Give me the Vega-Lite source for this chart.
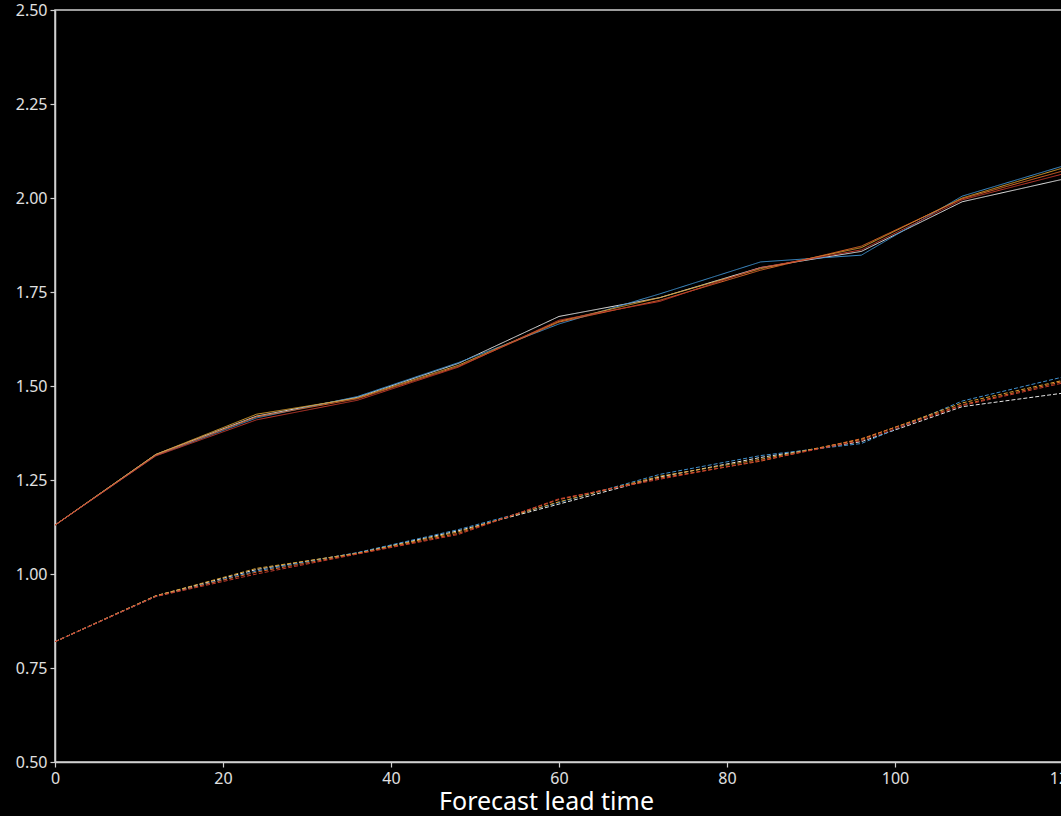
{
  "$schema": "https://vega.github.io/schema/vega-lite/v6.json",
  "width": 1008,
  "height": 752,
  "autosize": {"type": "none"},
  "padding": {"left": 55, "top": 10, "right": 0, "bottom": 54},
  "background": "#000000",
  "config": {
    "view": {"stroke": "#d0d0d0", "strokeWidth": 1.5},
    "font": "Noto Sans",
    "axis": {
      "domainColor": "#d0d0d0",
      "domainWidth": 1.5,
      "tickColor": "#d0d0d0",
      "tickWidth": 1.2,
      "tickSize": 5,
      "labelColor": "#e0e0e0",
      "labelFont": "Noto Sans",
      "labelFlush": false,
      "labelPadding": 3,
      "grid": false,
      "titleColor": "#ffffff",
      "titleFont": "Noto Sans",
      "titleFontWeight": "normal"
    }
  },
  "data": {
    "values": [
      {"series": "white", "kind": "solid", "lead": 0, "v": 1.13},
      {"series": "white", "kind": "solid", "lead": 12, "v": 1.318},
      {"series": "white", "kind": "solid", "lead": 24, "v": 1.420},
      {"series": "white", "kind": "solid", "lead": 36, "v": 1.470},
      {"series": "white", "kind": "solid", "lead": 48, "v": 1.560},
      {"series": "white", "kind": "solid", "lead": 60, "v": 1.685},
      {"series": "white", "kind": "solid", "lead": 72, "v": 1.735},
      {"series": "white", "kind": "solid", "lead": 84, "v": 1.815},
      {"series": "white", "kind": "solid", "lead": 96, "v": 1.858},
      {"series": "white", "kind": "solid", "lead": 108, "v": 1.990},
      {"series": "white", "kind": "solid", "lead": 120, "v": 2.050},
      {"series": "blue", "kind": "solid", "lead": 0, "v": 1.13},
      {"series": "blue", "kind": "solid", "lead": 12, "v": 1.315},
      {"series": "blue", "kind": "solid", "lead": 24, "v": 1.415},
      {"series": "blue", "kind": "solid", "lead": 36, "v": 1.472},
      {"series": "blue", "kind": "solid", "lead": 48, "v": 1.562},
      {"series": "blue", "kind": "solid", "lead": 60, "v": 1.665},
      {"series": "blue", "kind": "solid", "lead": 72, "v": 1.745},
      {"series": "blue", "kind": "solid", "lead": 84, "v": 1.830},
      {"series": "blue", "kind": "solid", "lead": 96, "v": 1.848},
      {"series": "blue", "kind": "solid", "lead": 108, "v": 2.005},
      {"series": "blue", "kind": "solid", "lead": 120, "v": 2.085},
      {"series": "gold", "kind": "solid", "lead": 0, "v": 1.13},
      {"series": "gold", "kind": "solid", "lead": 12, "v": 1.318},
      {"series": "gold", "kind": "solid", "lead": 24, "v": 1.425},
      {"series": "gold", "kind": "solid", "lead": 36, "v": 1.468},
      {"series": "gold", "kind": "solid", "lead": 48, "v": 1.555},
      {"series": "gold", "kind": "solid", "lead": 60, "v": 1.672},
      {"series": "gold", "kind": "solid", "lead": 72, "v": 1.735},
      {"series": "gold", "kind": "solid", "lead": 84, "v": 1.812},
      {"series": "gold", "kind": "solid", "lead": 96, "v": 1.868},
      {"series": "gold", "kind": "solid", "lead": 108, "v": 2.000},
      {"series": "gold", "kind": "solid", "lead": 120, "v": 2.080},
      {"series": "orange", "kind": "solid", "lead": 0, "v": 1.13},
      {"series": "orange", "kind": "solid", "lead": 12, "v": 1.316},
      {"series": "orange", "kind": "solid", "lead": 24, "v": 1.418},
      {"series": "orange", "kind": "solid", "lead": 36, "v": 1.466},
      {"series": "orange", "kind": "solid", "lead": 48, "v": 1.552},
      {"series": "orange", "kind": "solid", "lead": 60, "v": 1.670},
      {"series": "orange", "kind": "solid", "lead": 72, "v": 1.728},
      {"series": "orange", "kind": "solid", "lead": 84, "v": 1.808},
      {"series": "orange", "kind": "solid", "lead": 96, "v": 1.872},
      {"series": "orange", "kind": "solid", "lead": 108, "v": 1.998},
      {"series": "orange", "kind": "solid", "lead": 120, "v": 2.072},
      {"series": "red", "kind": "solid", "lead": 0, "v": 1.13},
      {"series": "red", "kind": "solid", "lead": 12, "v": 1.314},
      {"series": "red", "kind": "solid", "lead": 24, "v": 1.410},
      {"series": "red", "kind": "solid", "lead": 36, "v": 1.462},
      {"series": "red", "kind": "solid", "lead": 48, "v": 1.550},
      {"series": "red", "kind": "solid", "lead": 60, "v": 1.675},
      {"series": "red", "kind": "solid", "lead": 72, "v": 1.725},
      {"series": "red", "kind": "solid", "lead": 84, "v": 1.815},
      {"series": "red", "kind": "solid", "lead": 96, "v": 1.862},
      {"series": "red", "kind": "solid", "lead": 108, "v": 1.995},
      {"series": "red", "kind": "solid", "lead": 120, "v": 2.064},
      {"series": "white", "kind": "dashed", "lead": 0, "v": 0.82},
      {"series": "white", "kind": "dashed", "lead": 12, "v": 0.942},
      {"series": "white", "kind": "dashed", "lead": 24, "v": 1.012},
      {"series": "white", "kind": "dashed", "lead": 36, "v": 1.056},
      {"series": "white", "kind": "dashed", "lead": 48, "v": 1.115},
      {"series": "white", "kind": "dashed", "lead": 60, "v": 1.186},
      {"series": "white", "kind": "dashed", "lead": 72, "v": 1.258},
      {"series": "white", "kind": "dashed", "lead": 84, "v": 1.310},
      {"series": "white", "kind": "dashed", "lead": 96, "v": 1.352},
      {"series": "white", "kind": "dashed", "lead": 108, "v": 1.445},
      {"series": "white", "kind": "dashed", "lead": 120, "v": 1.481},
      {"series": "blue", "kind": "dashed", "lead": 0, "v": 0.82},
      {"series": "blue", "kind": "dashed", "lead": 12, "v": 0.940},
      {"series": "blue", "kind": "dashed", "lead": 24, "v": 1.008},
      {"series": "blue", "kind": "dashed", "lead": 36, "v": 1.057},
      {"series": "blue", "kind": "dashed", "lead": 48, "v": 1.118},
      {"series": "blue", "kind": "dashed", "lead": 60, "v": 1.190},
      {"series": "blue", "kind": "dashed", "lead": 72, "v": 1.265},
      {"series": "blue", "kind": "dashed", "lead": 84, "v": 1.315},
      {"series": "blue", "kind": "dashed", "lead": 96, "v": 1.347},
      {"series": "blue", "kind": "dashed", "lead": 108, "v": 1.460},
      {"series": "blue", "kind": "dashed", "lead": 120, "v": 1.524},
      {"series": "gold", "kind": "dashed", "lead": 0, "v": 0.82},
      {"series": "gold", "kind": "dashed", "lead": 12, "v": 0.942},
      {"series": "gold", "kind": "dashed", "lead": 24, "v": 1.015},
      {"series": "gold", "kind": "dashed", "lead": 36, "v": 1.055},
      {"series": "gold", "kind": "dashed", "lead": 48, "v": 1.112},
      {"series": "gold", "kind": "dashed", "lead": 60, "v": 1.192},
      {"series": "gold", "kind": "dashed", "lead": 72, "v": 1.260},
      {"series": "gold", "kind": "dashed", "lead": 84, "v": 1.305},
      {"series": "gold", "kind": "dashed", "lead": 96, "v": 1.358},
      {"series": "gold", "kind": "dashed", "lead": 108, "v": 1.455},
      {"series": "gold", "kind": "dashed", "lead": 120, "v": 1.515},
      {"series": "orange", "kind": "dashed", "lead": 0, "v": 0.82},
      {"series": "orange", "kind": "dashed", "lead": 12, "v": 0.941},
      {"series": "orange", "kind": "dashed", "lead": 24, "v": 1.005},
      {"series": "orange", "kind": "dashed", "lead": 36, "v": 1.054},
      {"series": "orange", "kind": "dashed", "lead": 48, "v": 1.108},
      {"series": "orange", "kind": "dashed", "lead": 60, "v": 1.198},
      {"series": "orange", "kind": "dashed", "lead": 72, "v": 1.255},
      {"series": "orange", "kind": "dashed", "lead": 84, "v": 1.300},
      {"series": "orange", "kind": "dashed", "lead": 96, "v": 1.360},
      {"series": "orange", "kind": "dashed", "lead": 108, "v": 1.450},
      {"series": "orange", "kind": "dashed", "lead": 120, "v": 1.512},
      {"series": "red", "kind": "dashed", "lead": 0, "v": 0.82},
      {"series": "red", "kind": "dashed", "lead": 12, "v": 0.940},
      {"series": "red", "kind": "dashed", "lead": 24, "v": 1.000},
      {"series": "red", "kind": "dashed", "lead": 36, "v": 1.053},
      {"series": "red", "kind": "dashed", "lead": 48, "v": 1.105},
      {"series": "red", "kind": "dashed", "lead": 60, "v": 1.200},
      {"series": "red", "kind": "dashed", "lead": 72, "v": 1.252},
      {"series": "red", "kind": "dashed", "lead": 84, "v": 1.302},
      {"series": "red", "kind": "dashed", "lead": 96, "v": 1.355},
      {"series": "red", "kind": "dashed", "lead": 108, "v": 1.448},
      {"series": "red", "kind": "dashed", "lead": 120, "v": 1.508}
    ]
  },
  "mark": {"type": "line", "strokeWidth": 1, "clip": true},
  "encoding": {
    "x": {
      "field": "lead",
      "type": "quantitative",
      "scale": {"domain": [0, 120], "nice": false, "zero": false},
      "axis": {"values": [0, 20, 40, 60, 80, 100, 120], "labelFontSize": 16, "title": "Forecast lead time", "titleFontSize": 25, "titlePadding": 3, "titleX": 491}
    },
    "y": {
      "field": "v",
      "type": "quantitative",
      "scale": {"domain": [0.5, 2.5], "nice": false, "zero": false},
      "axis": {"values": [0.5, 0.75, 1.0, 1.25, 1.5, 1.75, 2.0, 2.25, 2.5], "labelFontSize": 16, "format": ".2f", "title": null}
    },
    "detail": {"field": "kind"},
    "color": {
      "field": "series",
      "type": "nominal",
      "scale": {
        "domain": ["white", "blue", "gold", "orange", "red"],
        "range": ["#e6e6e6", "#3f8fcc", "#d9a030", "#e0682a", "#c23a2e"]
      },
      "legend": null
    },
    "strokeDash": {
      "field": "kind",
      "type": "nominal",
      "scale": {"domain": ["solid", "dashed"], "range": [[1, 0], [4, 2]]},
      "legend": null
    }
  }
}
